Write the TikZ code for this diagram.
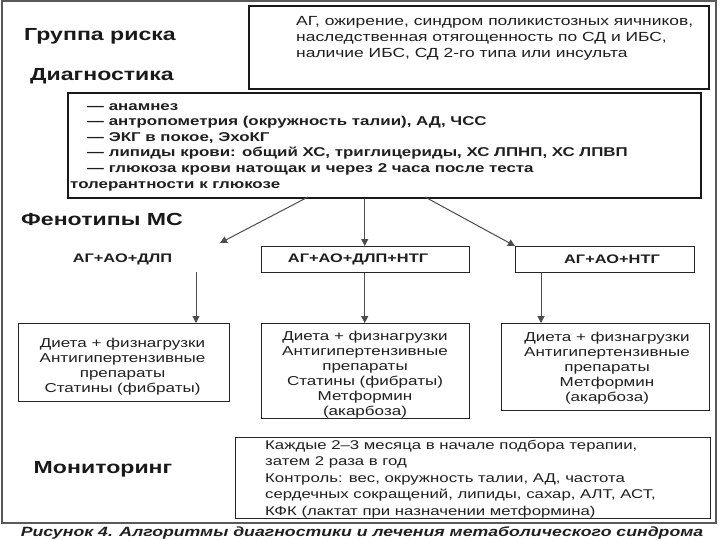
\documentclass[tikz,border=0pt]{standalone}
\usepackage{fontspec}
\setmainfont[FakeStretch=1.32]{Liberation Sans}
\usetikzlibrary{arrows.meta}
\begin{document}
\begin{tikzpicture}[x=1pt,y=-1pt,
  frame/.style={draw=black!65,line width=2.2pt},
  bigbox/.style={draw=black!90,line width=1.8pt,anchor=north west,inner sep=0pt},
  smallbox/.style={draw=black!85,line width=1.4pt,anchor=north west,inner sep=0pt},
  head/.style={font=\fontsize{17.5}{20}\selectfont\bfseries,text=black!90,inner sep=0pt},
  body/.style={text=black!88,inner sep=0pt},
  phen/.style={body,font=\fontsize{12.4}{14}\selectfont\bfseries},
  treat/.style={body,anchor=north,align=center,font=\fontsize{12.9}{15}\selectfont},
  arr/.style={draw=black!70,line width=1pt,-{Triangle[length=7pt,width=7pt]}},
]
\useasboundingbox (0,0) rectangle (720,540);
\fill[white] (0,0) rectangle (720,540);
\draw[frame] (2,1) rectangle (716,523);

% risk group
\node[head] (h1) at (100,36) {Группа риска};
\node[bigbox,minimum width=460pt,minimum height=83pt] (b1) at (248,5) {};
\node[body,anchor=north west,align=left,font=\fontsize{13.2}{16.3}\selectfont] (t1) at (296,13.6)
 {\strut АГ, ожирение, синдром поликистозных яичников,\\наследственная отягощенность по СД и ИБС,\\наличие ИБС, СД 2-го типа или инсульта};

% diagnostics
\node[head] (h2) at (102,76) {Диагностика};
\node[bigbox,minimum width=633pt,minimum height=105pt] (b2) at (67,92) {};
\node[body,anchor=north west,align=left,font=\fontsize{12.8}{15.6}\selectfont\bfseries] (t2) at (70,99)
 {\strut\hspace{17pt}— анамнез\\
  \hspace{17pt}— антропометрия (окружность талии), АД, ЧСС\\
  \hspace{17pt}— ЭКГ в покое, ЭхоКГ\\
  \hspace{17pt}— липиды крови: общий ХС, триглицериды, ХС ЛПНП, ХС ЛПВП\\
  \hspace{17pt}— глюкоза крови натощак и через 2 часа после теста\\
  толерантности к глюкозе};

% phenotypes
\node[head] (h3) at (102,219) {Фенотипы МС};
\node[phen] (pL) at (122.5,259) {АГ+АО+ДЛП};
\node[smallbox,minimum width=208pt,minimum height=26pt] (pMb) at (261,246) {};
\node[phen] (pM) at (358,259) {АГ+АО+ДЛП+НТГ};
\node[smallbox,minimum width=179pt,minimum height=26pt] (pRb) at (515,246) {};
\node[phen] (pR) at (612,259) {АГ+АО+НТГ};

\coordinate (a1s) at (308,197);
\coordinate (a1e) at (220,243);
\coordinate (a3s) at (425,197);
\draw[arr] (a1s) -- (a1e);
\draw[arr] (b2.south -| pMb.north) ++(-1,0) coordinate (a2s) -- (a2s |- pMb.north);
\draw[arr] (a3s) -- (pRb.north west);

% treatment boxes
\node[smallbox,minimum width=211pt,minimum height=78pt] (tL) at (18,323) {};
\node[smallbox,minimum width=208pt,minimum height=95pt] (tM) at (261,323) {};
\node[smallbox,minimum width=208pt,minimum height=87pt] (tR) at (501,323) {};
\node[treat] (xL) at (122.5,336.5)
 {\strut Диета + физнагрузки\\Антигипертензивные\\препараты\\Статины (фибраты)};
\node[treat] (xM) at (365,329.5)
 {\strut Диета + физнагрузки\\Антигипертензивные\\препараты\\Статины (фибраты)\\Метформин\\(акарбоза)};
\node[treat] (xR) at (607,330.5)
 {\strut Диета + физнагрузки\\Антигипертензивные\\препараты\\Метформин\\(акарбоза)};

\coordinate (aLs) at (196,272);
\draw[arr] (aLs) -- (aLs |- tL.north);
\draw[arr] (pMb.south -| a2s) -- (a2s |- tM.north);
\coordinate (aRs) at (541,272);
\draw[arr] (aRs) -- (aRs |- tR.north);

% monitoring
\node[head] (h4) at (103,469) {Мониторинг};
\node[smallbox,minimum width=475pt,minimum height=81pt] (bm) at (235,437) {};
\node[body,anchor=north west,align=left,font=\fontsize{12.7}{16.5}\selectfont] (tm) at (265,437.5)
 {\strut Каждые 2–3 месяца в начале подбора терапии,\\затем 2 раза в год\\Контроль: вес, окружность талии, АД, частота\\сердечных сокращений, липиды, сахар, АЛТ, АСТ,\\КФК (лактат при назначении метформина)};

% caption
\node[body,font=\fontsize{13.4}{15}\selectfont\bfseries\itshape] (cap) at (362,533)
 {Рисунок 4. Алгоритмы диагностики и лечения метаболического синдрома};
\end{tikzpicture}
\end{document}
